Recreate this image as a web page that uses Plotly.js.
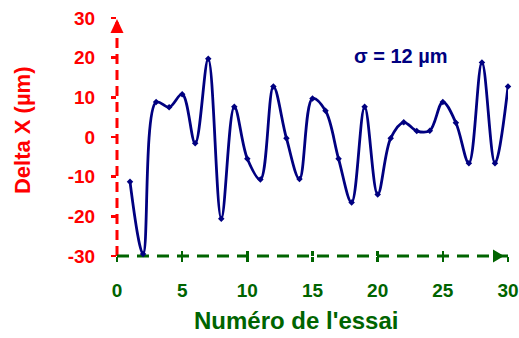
<!DOCTYPE html>
<html>
<head>
<meta charset="utf-8">
<script src="https://cdn.plot.ly/plotly-3.0.1.min.js"></script>
<style>html,body{margin:0;padding:0;background:#fff;}#chart{width:519px;height:338px;}</style>
</head>
<body>
<div id="chart"></div>
<script>
const essai = [1,2,3,4,5,6,7,8,9,10,11,12,13,14,15,16,17,18,19,20,21,22,23,24,25,26,27,28,29,30];
const deltaX = [-11.3,-29.5,8.8,7.5,10.8,-1.6,19.7,-20.6,7.6,-5.5,-10.7,12.7,-0.3,-10.6,9.7,6.6,-5.5,-16.5,7.6,-14.5,-0.3,3.7,1.5,1.6,8.8,3.6,-6.6,18.8,-6.6,12.7];
const xTicks = [0,5,10,15,20,25,30];
const yTicks = [-30,-20,-10,0,10,20,30];
const sigmaLabel = "σ = 12 µm";
const xTitle = "Numéro de l'essai";
const yTitle = "Delta X (µm)";

const FONT = "Liberation Sans, Arial, sans-serif";
const RED = "#ff0000", GREEN = "#006400", NAVY = "#000080";

const trace = {
  x: essai, y: deltaX, type: "scatter", mode: "lines+markers",
  line: {color: NAVY, width: 2.8, shape: "spline", smoothing: 1},
  marker: {color: NAVY, size: 5, symbol: "diamond"},
  cliponaxis: false,
  hoverinfo: "skip"
};
const dummy = {x: [0], y: [0], xaxis: "x2", yaxis: "y", mode: "markers",
  marker: {opacity: 0}, hoverinfo: "skip", showlegend: false};

const layout = {
  width: 519, height: 338,
  margin: {l: 117, r: 11, t: 18, b: 82},
  paper_bgcolor: "#fff", plot_bgcolor: "#fff",
  showlegend: false,
  xaxis: {
    range: [0, 30], tickvals: xTicks, ticktext: xTicks.map(String),
    showgrid: false, zeroline: false, showline: false,
    ticks: "inside", ticklen: 5, tickwidth: 2.5, tickcolor: GREEN,
    tickfont: {family: FONT, size: 19, color: GREEN, weight: "bold"},
    ticklabelstandoff: 21,
    automargin: false, fixedrange: true
  },
  xaxis2: {
    range: [0, 30], tickvals: xTicks, overlaying: "x", side: "bottom",
    showticklabels: false, showgrid: false, zeroline: false, showline: false,
    ticks: "outside", ticklen: 5, tickwidth: 2.5, tickcolor: GREEN, fixedrange: true
  },
  yaxis: {
    range: [-30, 30], tickvals: yTicks, ticktext: yTicks.map(String),
    showgrid: false, zeroline: false, showline: false,
    ticks: "outside", ticklen: 5, tickwidth: 2.5, tickcolor: RED,
    tickfont: {family: FONT, size: 19, color: RED, weight: "bold"},
    ticklabelstandoff: 12,
    automargin: false, fixedrange: true
  },
  shapes: [
    {type: "line", xref: "paper", yref: "paper", x0: 0, x1: 0, y0: 0, y1: 1,
     line: {color: RED, width: 3, dash: "10px,6px"}, layer: "below"},
    {type: "path", xref: "paper", yref: "paper", xsizemode: "pixel", ysizemode: "pixel",
     xanchor: 0, yanchor: 1, path: "M -6.5 -15 L 6.5 -15 L 0 -1 Z",
     fillcolor: RED, line: {width: 0}, layer: "below"},
    {type: "line", xref: "paper", yref: "paper", x0: 0, x1: 1, y0: 0, y1: 0,
     line: {color: GREEN, width: 3, dash: "12px,8px"}, layer: "below"},
    {type: "path", xref: "paper", yref: "paper", xsizemode: "pixel", ysizemode: "pixel",
     xanchor: 1, yanchor: 0, path: "M -15 -6.5 L -15 6.5 L -4 0 Z",
     fillcolor: GREEN, line: {width: 0}, layer: "below"}
  ],
  annotations: [
    {text: sigmaLabel, xref: "paper", yref: "paper", x: 0.727, y: 0.84,
     showarrow: false, xanchor: "center", yanchor: "middle",
     font: {family: FONT, size: 20, color: NAVY, weight: "bold"}},
    {text: xTitle, xref: "paper", yref: "paper", x: 0.459, y: -0.269,
     showarrow: false, xanchor: "center", yanchor: "middle",
     font: {family: FONT, size: 24, color: GREEN, weight: "bold"}},
    {text: yTitle, xref: "paper", yref: "paper", x: -0.243, y: 0.529,
     showarrow: false, xanchor: "center", yanchor: "middle", textangle: -90,
     font: {family: FONT, size: 22, color: RED, weight: "bold"}}
  ]
};

Plotly.newPlot("chart", [trace, dummy], layout, {displayModeBar: false, staticPlot: true});
</script>
</body>
</html>
